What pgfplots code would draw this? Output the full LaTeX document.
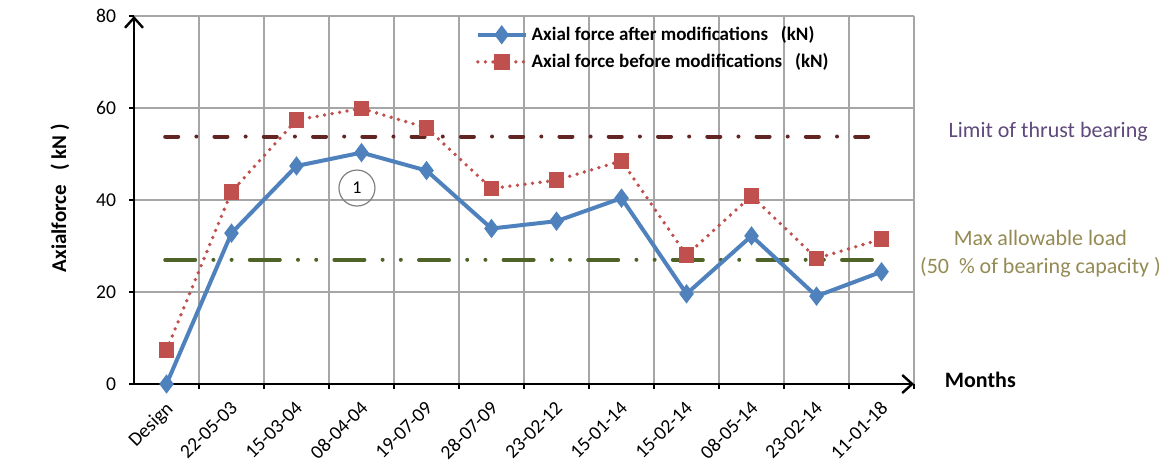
\documentclass[border=0pt]{standalone}
\usepackage{pgfplots}
\pgfplotsset{compat=1.18}
\usetikzlibrary{arrows.meta}
\usepackage{fontspec}
\setmainfont{Carlito}

\definecolor{blueS}{HTML}{4F81BD}
\definecolor{redS}{HTML}{C0504D}
\definecolor{limitC}{HTML}{632523}
\definecolor{greenC}{HTML}{4F6228}
\definecolor{purpleT}{HTML}{5F497A}
\definecolor{oliveT}{HTML}{948A54}
\definecolor{gridC}{HTML}{A6A6A6}

\begin{document}
\begin{tikzpicture}
\begin{axis}[
  scale only axis,
  width=390pt, height=184pt,
  xmin=-0.5, xmax=11.5,
  ymin=0, ymax=80,
  clip mode=individual,
  axis lines=left,
  axis line style={black, line width=1.2pt, -{Straight Barb[length=5pt,width=9pt,line width=1.2pt]}},
  xtick={0,...,11},
  xticklabels={Design,22-05-03,15-03-04,08-04-04,19-07-09,28-07-09,23-02-12,15-01-14,15-02-14,08-05-14,23-02-14,11-01-18},
  minor xtick={0.5,1.5,...,11.5},
  major x tick style={draw=none},
  xminorgrids=true,
  ytick={0,20,...,80},
  ymajorgrids=true,
  grid style={gridC, line width=0.7pt},
  minor grid style={gridC, line width=0.7pt},
  tick align=outside,
  major tick length=2.5pt,
  minor tick length=2.5pt,
  tick style={black, line width=1.2pt},
  /pgf/number format/assume math mode=true,
  ticklabel style={font=\fontsize{9.8}{11}\selectfont},
  xticklabel style={rotate=45, anchor=north east, inner sep=0.5pt, yshift=-2.5pt, xshift=-4pt},
  yticklabel style={xshift=-3pt},
  legend style={at={(rel axis cs:0.43,0.995)}, anchor=north west, draw=none, fill=none,
    font=\bfseries\fontsize{9.5}{11}\selectfont, row sep=1pt},
  legend cell align=left,
  legend image code/.code={\draw[mark repeat=2,mark phase=2,#1] plot coordinates {(0cm,0cm) (0.42cm,0cm) (0.84cm,0cm)};},
]
% limit lines
\addplot[limitC, line width=2pt, line cap=round, dash pattern=on 6.5pt off 9.07pt on 0pt off 9.07pt, forget plot]
  coordinates {(-0.02,53.8) (10.8,53.8)};
\addplot[greenC, line width=2pt, line cap=round, dash pattern=on 15pt off 9.1pt on 0pt off 9.1pt on 0pt off 9.1pt, forget plot]
  coordinates {(-0.02,27) (10.93,27)};

\addplot[blueS, line width=2pt, mark=diamond*, mark size=3.2pt, mark options={solid}]
  coordinates {
  (0,0) (1,32.8) (2,47.4) (3,50.3) (4,46.4) (5,33.8)
  (6,35.4) (7,40.4) (8,19.6) (9,32.2) (10,19.1) (11,24.4)
  };
\addlegendentry{Axial force after modifications \ \ (kN)}

\addplot[redS, line width=1.9pt, line cap=round, dash pattern=on 0pt off 3.8pt, mark=square*, mark size=3pt, mark options={solid}]
  coordinates {
  (0,7.4) (1,41.8) (2,57.4) (3,59.9) (4,55.7) (5,42.5)
  (6,44.3) (7,48.5) (8,28.0) (9,40.9) (10,27.3) (11,31.5)
  };
\addlegendentry{Axial force before modifications \ \ (kN)}

\node[draw=gray, line width=0.6pt, circle, minimum size=18pt, inner sep=0pt, font=\fontsize{9}{10}\selectfont] at (axis cs:2.93,42.6) {1};

\node[rotate=90, font=\bfseries\fontsize{10.5}{12}\selectfont] at (rel axis cs:-0.095,0.505) {Axialforce \ \ ( kN )};
\node[font=\bfseries\fontsize{11}{13}\selectfont] at (rel axis cs:1.085,0.012) {Months};
\node[purpleT, font=\fontsize{11}{13}\selectfont] at (rel axis cs:1.172,0.685) {Limit of thrust bearing};
\node[oliveT, font=\fontsize{11}{13}\selectfont, align=center] at (rel axis cs:1.162,0.353) {Max allowable load\\[1pt] (50 \ \% of bearing capacity )};

\coordinate (BL) at (rel axis cs:-0.1718,-0.2092);
\coordinate (TR) at (rel axis cs:1.3179,1.0435);
\end{axis}
\pgfresetboundingbox
\path[use as bounding box] (BL) rectangle (TR);
\end{tikzpicture}
\end{document}
